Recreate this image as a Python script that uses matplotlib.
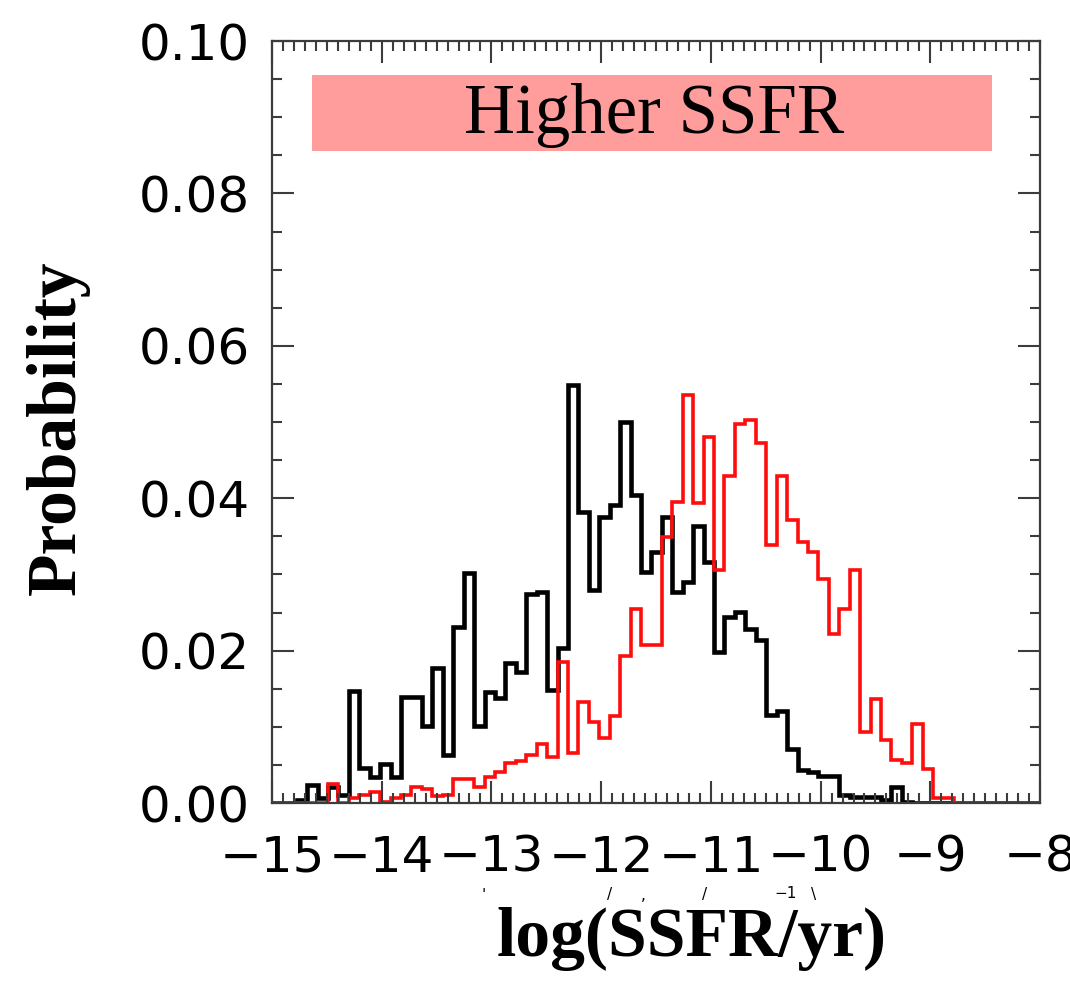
import numpy as np
import matplotlib
matplotlib.use("Agg")
import matplotlib.pyplot as plt
from matplotlib.patches import Rectangle
from matplotlib.ticker import MultipleLocator

# histogram bins (log SSFR), first edge and width
edge0 = -14.775
width = 0.0951

black = [0.0004, 0.0024, 0.0007, 0.0021, 0.0010, 0.0147, 0.0046, 0.0034, 0.0051, 0.0034,
         0.0139, 0.0139, 0.0101, 0.0177, 0.0063, 0.0231, 0.0302, 0.0101, 0.0146, 0.0138,
         0.0184, 0.0172, 0.0274, 0.0277, 0.0148, 0.0203, 0.0548, 0.0382, 0.0279, 0.0375,
         0.0391, 0.0500, 0.0404, 0.0303, 0.0329, 0.0375, 0.0277, 0.0290, 0.0364, 0.0316,
         0.0198, 0.0244, 0.0251, 0.0229, 0.0214, 0.0116, 0.0121, 0.0071, 0.0043, 0.0041,
         0.0035, 0.0035, 0.0010, 0.0008, 0.0008, 0.0008, 0.0004, 0.0021, 0.0002, 0.0,
         0.0, 0.0, 0.0]

red = [0.0, 0.0, 0.0, 0.0025, 0.0, 0.0007, 0.0010, 0.0015, 0.0002, 0.0007,
       0.0010, 0.0021, 0.0019, 0.0009, 0.0011, 0.0031, 0.0031, 0.0021, 0.0034, 0.0041,
       0.0052, 0.0055, 0.0063, 0.0078, 0.0060, 0.0185, 0.0066, 0.0133, 0.0107, 0.0085,
       0.0114, 0.0193, 0.0254, 0.0208, 0.0207, 0.0349, 0.0395, 0.0536, 0.0394, 0.0481,
       0.0306, 0.0429, 0.0498, 0.0503, 0.0472, 0.0338, 0.0429, 0.0371, 0.0342, 0.0329,
       0.0294, 0.0222, 0.0255, 0.0306, 0.0093, 0.0136, 0.0083, 0.0057, 0.0052, 0.0104,
       0.0045, 0.0007, 0.0007]

pad_lo, pad_hi = 3, 10
b = np.concatenate([np.zeros(pad_lo), black, np.zeros(pad_hi)])
r = np.concatenate([np.zeros(pad_lo), red, np.zeros(pad_hi)])
edges = edge0 + width * (np.arange(len(b) + 1) - pad_lo)

fig = plt.figure(figsize=(10.7, 9.88), dpi=100)
ax = fig.add_axes([0.2542, 0.1872, 0.7178, 0.7713])

ax.stairs(b, edges, color="black", lw=3.3, baseline=None)
ax.stairs(r, edges, color="#ff0d0d", lw=2.6, baseline=None)

ax.set_xlim(-15, -8)
ax.set_ylim(0, 0.10)
ax.xaxis.set_major_locator(MultipleLocator(1))
ax.xaxis.set_minor_locator(MultipleLocator(0.1))
ax.yaxis.set_major_locator(MultipleLocator(0.02))
ax.yaxis.set_minor_locator(MultipleLocator(0.005))
ax.yaxis.set_major_formatter(matplotlib.ticker.FormatStrFormatter("%.2f"))
ax.xaxis.set_major_formatter(matplotlib.ticker.FuncFormatter(lambda v, p: "\u2212%d" % abs(round(v))))

for s in ax.spines.values():
    s.set_color("#3c3c3c")
    s.set_linewidth(1.6)
ax.tick_params(which="both", direction="in", top=True, right=True, color="#3c3c3c", width=1.5)
ax.tick_params(which="major", length=16)
ax.tick_params(which="minor", length=7)
ax.tick_params(axis="x", which="major", pad=22, labelsize=36)
ax.tick_params(axis="y", which="major", pad=16, labelsize=36)

ax.set_xlabel("log(SSFR/yr)", family="Liberation Serif", weight="bold", fontsize=50)
ax.set_ylabel("Probability", family="Liberation Serif", weight="bold", fontsize=50)
ax.xaxis.set_label_coords(0.547, -0.137)
ax.yaxis.set_label_coords(-0.237, 0.493)

# banner
ax.add_patch(Rectangle((0.052, 0.855), 0.886, 0.101, transform=ax.transAxes,
                       facecolor="#ff9c9c", edgecolor="none", zorder=3))
ax.text(0.498, 0.902, "Higher SSFR", transform=ax.transAxes, ha="center", va="center",
        family="Liberation Serif", fontsize=51, zorder=4)

# leftover bits of a hidden superscript label under the tick labels
bits = [(484, 895, "'"), (610, 894, "/"), (643, 895, ","), (705, 894, "/"),
        (786, 893, "\u22121"), (814, 894, "\\")]
for px, py, s in bits:
    fig.text(px / 1070, 1 - py / 988, s, fontsize=11, ha="center", va="center")

fig.savefig("out.png", dpi=100)
